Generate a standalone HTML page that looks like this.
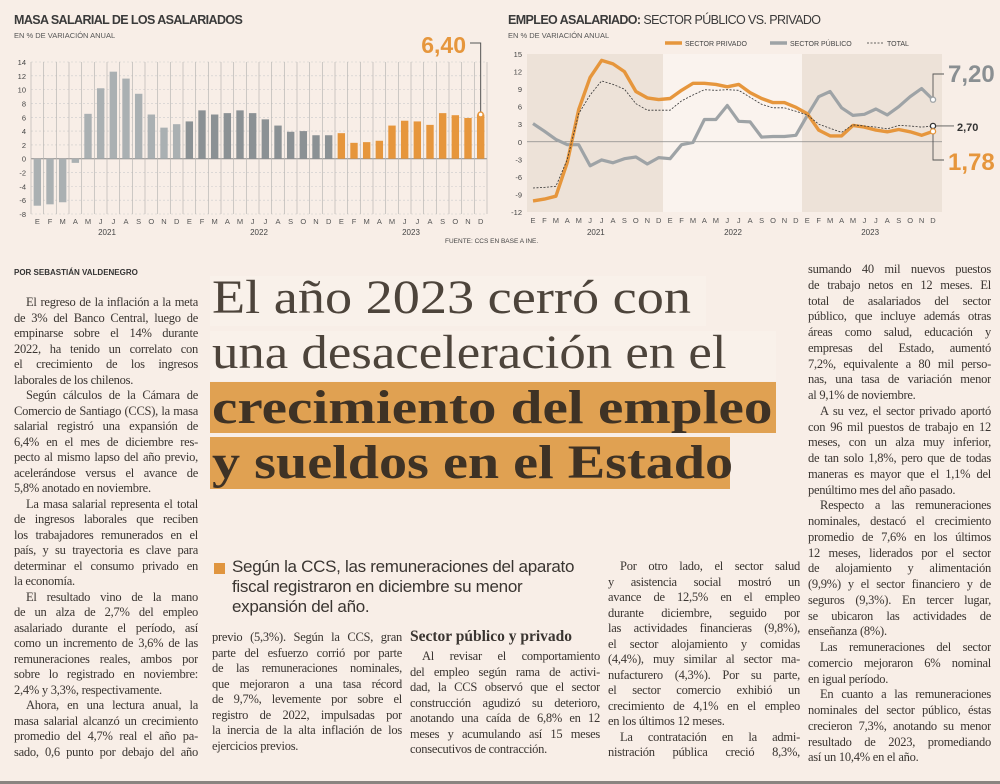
<!DOCTYPE html>
<html><head><meta charset="utf-8">
<style>
body{margin:0;width:1000px;height:784px;background:#f8eee7;overflow:hidden;position:relative;font-family:"Liberation Serif",serif;color:#3d3833}
.abs{position:absolute}
.col{position:absolute;font-size:12.5px;line-height:15.5px;letter-spacing:-0.25px;color:#3a3531}
.col div{white-space:nowrap;text-align:justify;text-align-last:justify;overflow:hidden}
.col div.e{text-align-last:left}
.col div.i{text-indent:12px}
.hl{position:absolute;left:212px;font-size:48px;line-height:54px;white-space:nowrap;color:#4d443b;transform-origin:0 50%}
svg text{font-family:"Liberation Sans",sans-serif}
</style></head><body>
<svg class="abs" style="left:0;top:0" width="1000" height="255">
<text x="14" y="24" font-size="12.5" font-weight="bold" fill="#3a3a3a" letter-spacing="-0.6">MASA SALARIAL DE LOS ASALARIADOS</text>
<text x="14" y="38" font-size="7.5" fill="#555">EN % DE VARIACIÓN ANUAL</text>
<g id="lc"></g>
<text x="508" y="24" font-size="12.5" font-weight="bold" fill="#3a3a3a" letter-spacing="-0.6">EMPLEO ASALARIADO: <tspan font-weight="normal">SECTOR PÚBLICO VS. PRIVADO</tspan></text>
<text x="508" y="38" font-size="7.5" fill="#555">EN % DE VARIACIÓN ANUAL</text>
<g id="rc"></g>
<text x="445" y="243" font-size="6.5" fill="#444">FUENTE: CCS EN BASE A INE.</text>
</svg>

<div class="abs" style="left:14px;top:268px;font:bold 8px 'Liberation Sans',sans-serif;color:#333">POR SEBASTIÁN VALDENEGRO</div>

<div class="abs" style="left:210px;top:276px;width:496px;height:50px;background:#f9f1ea"></div>
<div class="abs" style="left:210px;top:331px;width:566px;height:50px;background:#f9f1ea"></div>
<div class="abs" style="left:210px;top:382px;width:566px;height:51px;background:#e0a152"></div>
<div class="abs" style="left:210px;top:437px;width:520px;height:52px;background:#e0a152"></div>
<div class="hl" style="top:271px;transform:scaleX(1.13)">El año 2023 cerró con</div>
<div class="hl" style="top:326px;transform:scaleX(1.1)">una desaceleración en el</div>
<div class="hl" style="top:381px;font-weight:bold;color:#3e3225;transform:scaleX(1.19)">crecimiento del empleo</div>
<div class="hl" style="top:436px;font-weight:bold;color:#3e3225;transform:scaleX(1.17)">y sueldos en el Estado</div>

<div class="abs" style="left:214px;top:563px;width:11px;height:11px;background:#e0953f"></div>
<div class="abs" style="left:232px;top:557px;font:17px/20px 'Liberation Sans',sans-serif;color:#3a3531;letter-spacing:-0.3px">Según la CCS, las remuneraciones del aparato<br>fiscal registraron en diciembre su menor<br>expansión del año.</div>

<div class="col" style="left:14px;top:295px;width:184px">
<div class="i">El regreso de la inflación a la meta</div><div>de 3% del Banco Central, luego de</div><div>empinarse sobre el 14% durante</div><div>2022, ha tenido un correlato con</div><div>el crecimiento de los ingresos</div><div class="e">laborales de los chilenos.</div>
<div class="i">Según cálculos de la Cámara de</div><div>Comercio de Santiago (CCS), la masa</div><div>salarial registró una expansión de</div><div>6,4% en el mes de diciembre res-</div><div>pecto al mismo lapso del año previo,</div><div>acelerándose versus el avance de</div><div class="e">5,8% anotado en noviembre.</div>
<div class="i">La masa salarial representa el total</div><div>de ingresos laborales que reciben</div><div>los trabajadores remunerados en el</div><div>país, y su trayectoria es clave para</div><div>determinar el consumo privado en</div><div class="e">la economía.</div>
<div class="i">El resultado vino de la mano</div><div>de un alza de 2,7% del empleo</div><div>asalariado durante el período, así</div><div>como un incremento de 3,6% de las</div><div>remuneraciones reales, ambos por</div><div>sobre lo registrado en noviembre:</div><div class="e">2,4% y 3,3%, respectivamente.</div>
<div class="i">Ahora, en una lectura anual, la</div><div>masa salarial alcanzó un crecimiento</div><div>promedio del 4,7% real el año pa-</div><div>sado, 0,6 punto por debajo del año</div>
</div>

<div class="col" style="left:212px;top:630px;width:190px">
<div>previo (5,3%). Según la CCS, gran</div><div>parte del esfuerzo corrió por parte</div><div>de las remuneraciones nominales,</div><div>que mejoraron a una tasa récord</div><div>de 9,7%, levemente por sobre el</div><div>registro de 2022, impulsadas por</div><div>la inercia de la alta inflación de los</div><div class="e">ejercicios previos.</div>
</div>

<div class="abs" style="left:410px;top:628px;font:bold 15.5px 'Liberation Serif',serif;color:#3a3531">Sector público y privado</div>
<div class="col" style="left:410px;top:649px;width:190px">
<div class="i">Al revisar el comportamiento</div><div>del empleo según rama de activi-</div><div>dad, la CCS observó que el sector</div><div>construcción agudizó su deterioro,</div><div>anotando una caída de 6,8% en 12</div><div>meses y acumulando así 15 meses</div><div class="e">consecutivos de contracción.</div>
</div>

<div class="col" style="left:608px;top:559px;width:192px">
<div class="i">Por otro lado, el sector salud</div><div>y asistencia social mostró un</div><div>avance de 12,5% en el empleo</div><div>durante diciembre, seguido por</div><div>las actividades financieras (9,8%),</div><div>el sector alojamiento y comidas</div><div>(4,4%), muy similar al sector ma-</div><div>nufacturero (4,3%). Por su parte,</div><div>el sector comercio exhibió un</div><div>crecimiento de 4,1% en el empleo</div><div class="e">en los últimos 12 meses.</div>
<div class="i">La contratación en la admi-</div><div>nistración pública creció 8,3%,</div>
</div>

<div class="col" style="left:808px;top:262px;width:183px;line-height:15.75px">
<div>sumando 40 mil nuevos puestos</div><div>de trabajo netos en 12 meses. El</div><div>total de asalariados del sector</div><div>público, que incluye además otras</div><div>áreas como salud, educación y</div><div>empresas del Estado, aumentó</div><div>7,2%, equivalente a 80 mil perso-</div><div>nas, una tasa de variación menor</div><div class="e">al 9,1% de noviembre.</div>
<div class="i">A su vez, el sector privado aportó</div><div>con 96 mil puestos de trabajo en 12</div><div>meses, con un alza muy inferior,</div><div>de tan solo 1,8%, pero que de todas</div><div>maneras es mayor que el 1,1% del</div><div class="e">penúltimo mes del año pasado.</div>
<div class="i">Respecto a las remuneraciones</div><div>nominales, destacó el crecimiento</div><div>promedio de 7,6% en los últimos</div><div>12 meses, liderados por el sector</div><div>de alojamiento y alimentación</div><div>(9,9%) y el sector financiero y de</div><div>seguros (9,3%). En tercer lugar,</div><div>se ubicaron las actividades de</div><div class="e">enseñanza (8%).</div>
<div class="i">Las remuneraciones del sector</div><div>comercio mejoraron 6% nominal</div><div class="e">en igual período.</div>
<div class="i">En cuanto a las remuneraciones</div><div>nominales del sector público, éstas</div><div>crecieron 7,3%, anotando su menor</div><div>resultado de 2023, promediando</div><div class="e">así un 10,4% en el año.</div>
</div>
<div class="abs" style="left:0;top:781px;width:1000px;height:3px;background:#8a8480"></div>

<script>
const months = ["E","F","M","A","M","J","J","A","S","O","N","D"];
const years = ["2021","2022","2023"];
const masaValues = [-6.8,-6.6,-6.3,-0.6,6.5,10.2,12.6,11.6,9.4,6.4,4.5,5.0, 5.4,7.0,6.4,6.6,7.0,6.6,5.7,4.8,3.9,4.0,3.4,3.4, 3.7,2.3,2.4,2.6,4.8,5.5,5.4,4.9,6.6,6.3,5.9,6.4];
const masaTicks = [14,12,10,8,6,4,2,0,-2,-4,-6,-8];
const privado = [-10.1,-9.8,-9.3,-3.5,5.5,11.0,13.9,13.3,12.0,8.6,7.5,7.2, 7.4,8.8,10.0,10.0,9.8,9.4,9.8,8.4,7.4,6.7,6.7,5.9, 4.8,2.0,1.0,1.0,2.8,2.5,2.0,1.7,2.1,1.7,1.1,1.78];
const publico = [3.1,1.8,0.4,-0.5,-0.5,-4.1,-3.1,-3.6,-2.9,-2.6,-3.8,-2.7, -2.9,-0.5,-0.1,3.8,3.8,6.2,3.5,3.4,0.8,0.9,0.9,1.1, 4.5,7.7,8.6,5.8,4.5,4.7,5.6,4.6,6.0,7.7,9.1,7.2];
const total = [-7.9,-7.8,-7.6,-3.0,4.8,8.0,10.4,9.8,9.0,6.5,5.4,5.4, 5.4,7.0,8.0,8.9,8.8,8.9,8.8,7.6,6.4,5.8,5.8,5.2, 4.6,3.0,2.3,1.6,2.9,2.7,2.5,2.2,2.8,2.7,2.5,2.7];
const empTicks = [15,12,9,6,3,0,-3,-6,-9,-12];

const NS="http://www.w3.org/2000/svg";
function mk(parent,tag,attrs,txt){const e=document.createElementNS(NS,tag);for(const k in attrs)e.setAttribute(k,attrs[k]);if(txt!==undefined)e.textContent=txt;parent.appendChild(e);return e;}

// LEFT CHART
const lc=document.getElementById('lc');
const L={x0:31,x1:487,top:62,bot:214,min:-8,max:14};
const ly=v=>L.top+(L.max-v)*(L.bot-L.top)/(L.max-L.min);
const cw=(L.x1-L.x0)/masaValues.length;
const lx=i=>L.x0+cw*(i+0.5);
masaTicks.forEach(t=>{
  const g=mk(lc,'line',{x1:L.x0,x2:L.x1,y1:ly(t),y2:ly(t),stroke:t===0?'#888':'#ccc','stroke-width':t===0?1:0.6,'stroke-dasharray':t===0?'':'2,2'});
  
  
  const tx=mk(lc,'text',{x:26,y:ly(t)+3,'font-size':7.5,'text-anchor':'end',fill:'#444'},String(t));
  
  
});
for(let i=0;i<=masaValues.length;i++){
  const v=mk(lc,'line',{x1:L.x0+cw*i,x2:L.x0+cw*i,y1:L.top,y2:L.bot,stroke:'#b9b6b3','stroke-width':0.7});
  
  
}
masaValues.forEach((val,i)=>{
  const col=i<12?'#aab0b2':(i<24?'#8b9194':'#e6963c');
  const y0=ly(0),y1=ly(val);
  const r=mk(lc,'rect',{x:lx(i)-3.7,y:Math.min(y0,y1),width:7.4,height:Math.abs(y1-y0),fill:col});
  
  
  const m=mk(lc,'text',{x:lx(i),y:224,'font-size':7.5,'text-anchor':'middle',fill:'#555'},months[i%12]);
  
  
});
years.forEach((yv,k)=>{
  const t=mk(lc,'text',{x:L.x0+cw*(12*k+6),y:235,'font-size':8,'text-anchor':'middle',fill:'#444'},yv);
  
  
});
{
  const li=masaValues.length-1,px=lx(li),py=ly(masaValues[li]);
  const c=mk(lc,'circle',{cx:px,cy:py,r:2.5,fill:'#fff',stroke:'#e6963c','stroke-width':1.5});
  
  
  const p=mk(lc,'polyline',{points:`470,43 ${px},43 ${px},${py-3}`,fill:'none',stroke:'#555','stroke-width':1});
  
  
  const t=mk(lc,'text',{x:466,y:53,'font-size':23,'font-weight':'bold','text-anchor':'end',fill:'#e6963c'},String(masaValues[li].toFixed(2)).replace('.',','));
  
  
}

// RIGHT CHART
const rc=document.getElementById('rc');
const R={x0:527,x1:942,top:54,bot:212,min:-12,max:15,px0:533,px1:933};
const ry=v=>R.top+(R.max-v)*(R.bot-R.top)/(R.max-R.min);
const step=(R.px1-R.px0)/(privado.length-1);
const rx=i=>R.px0+step*i;
[[R.x0,663],[802,R.x1]].forEach(([a,b])=>{
  const s=mk(rc,'rect',{x:a,y:R.top,width:b-a,height:R.bot-R.top,fill:'#ede2d8'});
  
  
});
const us=mk(rc,'rect',{x:663,y:R.top,width:139,height:R.bot-R.top,fill:'#faf3ee'});


empTicks.forEach(t=>{
  const tx=mk(rc,'text',{x:522,y:ry(t)+3,'font-size':7.5,'text-anchor':'end',fill:'#444'},String(t));
  
  
});
const z=mk(rc,'line',{x1:R.x0,x2:R.x1,y1:ry(0),y2:ry(0),stroke:'#888','stroke-width':0.8});


function path(arr){return arr.map((v,i)=>(i?'L':'M')+rx(i).toFixed(1)+','+ry(v).toFixed(1)).join(' ');}
const pp=mk(rc,'path',{d:path(publico),fill:'none',stroke:'#9ea3a6','stroke-width':3.2,'stroke-linejoin':'round'});


const pv=mk(rc,'path',{d:path(privado),fill:'none',stroke:'#e6963c','stroke-width':3.4,'stroke-linejoin':'round'});


const tt=mk(rc,'path',{d:path(total),fill:'none',stroke:'#333','stroke-width':0.8,'stroke-dasharray':'2,1.5'});


months.concat(months,months).forEach((m,i)=>{
  const t=mk(rc,'text',{x:rx(i),y:223,'font-size':7.5,'text-anchor':'middle',fill:'#555'},m);
  
  
});
years.forEach((yv,k)=>{
  const t=mk(rc,'text',{x:rx(12*k+5.5),y:235,'font-size':8,'text-anchor':'middle',fill:'#444'},yv);
  
  
});
[['#e6963c',3.4,'',665,'SECTOR PRIVADO'],['#9ea3a6',3.4,'',770,'SECTOR PÚBLICO'],['#333',0.8,'2,1.5',867,'TOTAL']].forEach(([c,w,d,x,lab])=>{
  const l=mk(rc,'line',{x1:x,x2:x+17,y1:43,y2:43,stroke:c,'stroke-width':w,'stroke-dasharray':d});
  
  
  const t=mk(rc,'text',{x:x+20,y:46,'font-size':7,fill:'#444'},lab);
  
  
});
const li=privado.length-1,ex=rx(li);
[[publico[li],'#9ea3a6','#fff',948,82,24,'#8a8f92'],[total[li],'#333','#fff',957,131,11,'#333'],[privado[li],'#e6963c','#fff',948,170,24,'#e6963c']].forEach(([v,sc,fc,tx,ty,fs,tc],k)=>{
  const yy=ry(v);
  const c=mk(rc,'circle',{cx:ex,cy:yy,r:2.6,fill:fc,stroke:sc,'stroke-width':1.3});
  
  
  const ly2= k===0?74:(k===1?yy:160);
  const pl=mk(rc,'polyline',{points: k===1?`${ex+3},${yy} ${tx-3},${yy}`:`${ex},${k===0?yy-3:yy+3} ${ex},${ly2} ${tx-4},${ly2}`,fill:'none',stroke:'#555','stroke-width':0.9});
  
  
  const t=mk(rc,'text',{x:tx,y:ty,'font-size':fs,'font-weight':'bold',fill:tc},v.toFixed(2).replace('.',','));
  
  
});
</script>
</body></html>
